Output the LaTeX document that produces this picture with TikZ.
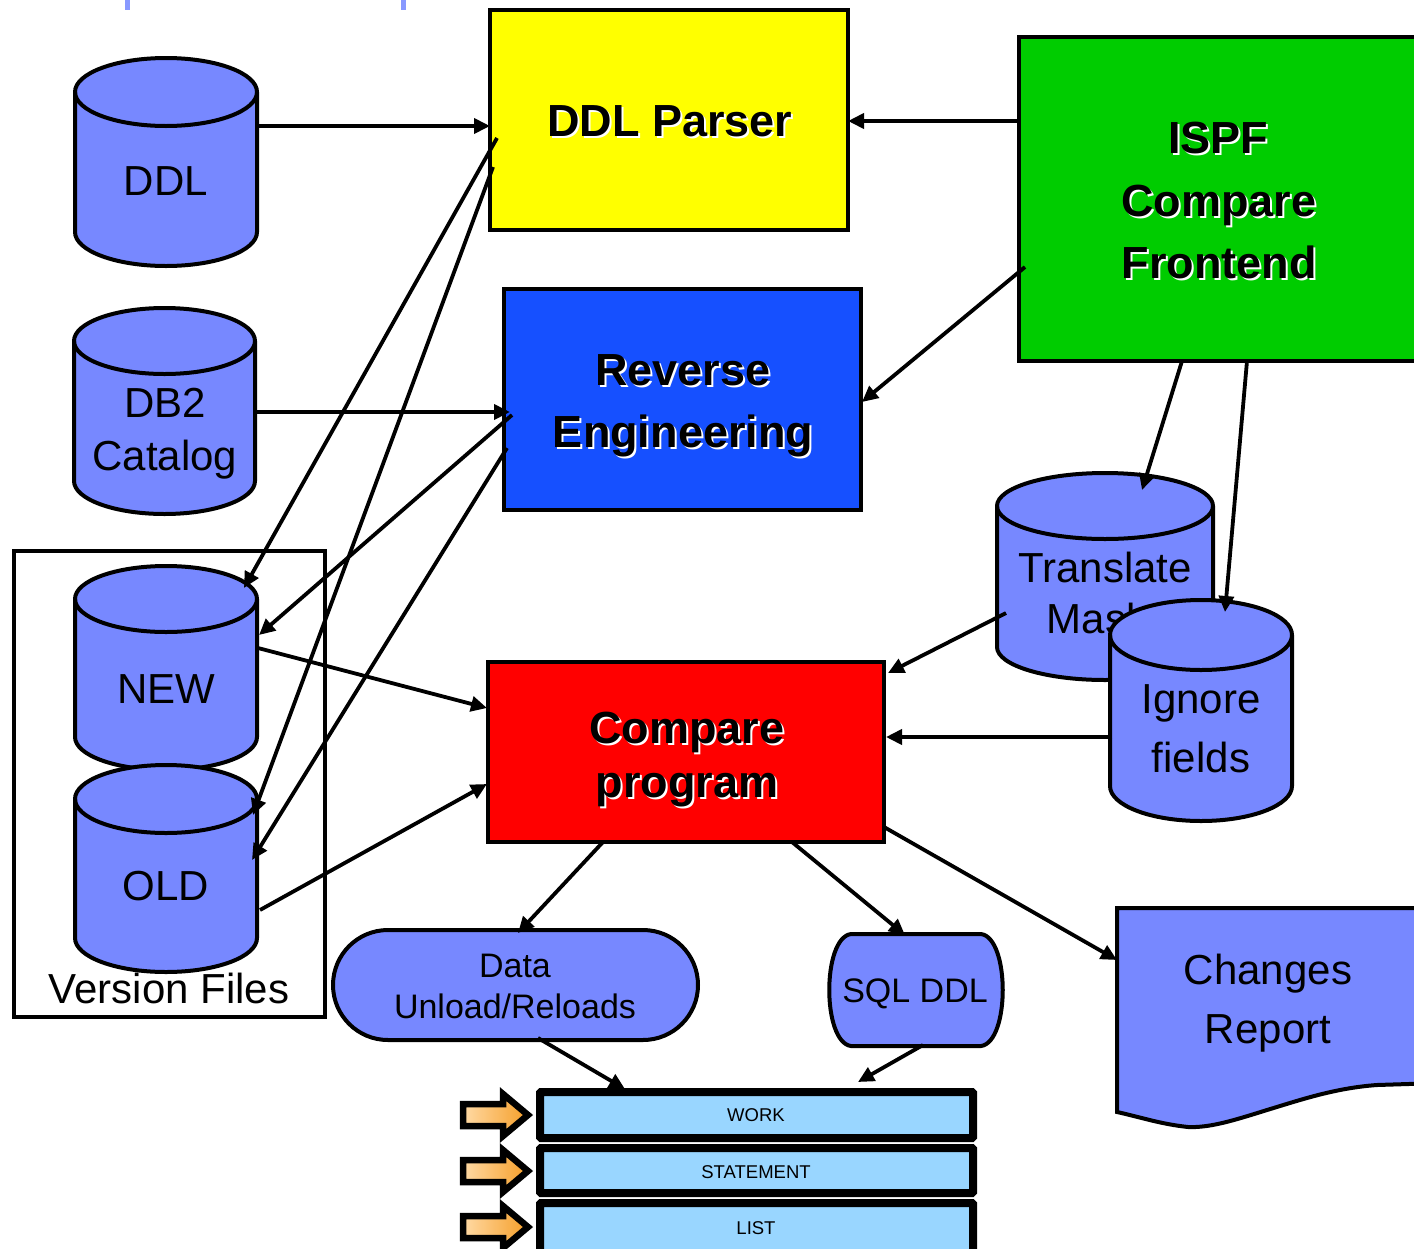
\documentclass[tikz,border=0pt]{standalone}
\usepackage{fontspec}
\setmainfont{Liberation Sans}
\usetikzlibrary{arrows.meta,calc,fit}
\definecolor{cylblue}{RGB}{119,136,255}
\definecolor{revblue}{RGB}{22,80,255}
\definecolor{ispfgreen}{RGB}{0,204,0}
\definecolor{boxyellow}{RGB}{255,255,0}
\definecolor{boxred}{RGB}{255,0,0}
\definecolor{barblue}{RGB}{153,214,255}
\definecolor{markblue}{RGB}{136,153,255}
\definecolor{orlight}{RGB}{255,218,165}
\definecolor{ordark}{RGB}{245,158,40}
\newcommand\cyl[6]{%
 \pgfmathsetmacro\cyA{(#2+#3)/2}%
 \pgfmathsetmacro\cyB{0.5523*(#3-#2)/2}%
 \pgfmathsetmacro\cyC{0.5523*#6}%
 \pgfmathsetmacro\cyT{#4+#6}%
 \pgfmathsetmacro\cyD{#5-#6}%
 \node[anchorbox, fit={(#2,#4)(#3,#5)}] (#1) {};
 \path[cylbody] (#2,\cyT) -- (#2,\cyD) .. controls (#2,\cyD+\cyC) and (\cyA-\cyB,#5) .. (\cyA,#5) .. controls (\cyA+\cyB,#5) and (#3,\cyD+\cyC) .. (#3,\cyD) -- (#3,\cyT) .. controls (#3,\cyT-\cyC) and (\cyA+\cyB,#4) .. (\cyA,#4) .. controls (\cyA-\cyB,#4) and (#2,\cyT-\cyC) .. (#2,\cyT) -- cycle;
 \path[cylline] (#2,\cyT) .. controls (#2,\cyT+\cyC) and (\cyA-\cyB,\cyT+#6) .. (\cyA,\cyT+#6) .. controls (\cyA+\cyB,\cyT+#6) and (#3,\cyT+\cyC) .. (#3,\cyT);
}
\newcommand\btext[4]{%
 \node[btxt,text=white] (#1-s) at (#2+2,#3+2) {#4};
 \node[btxt] (#1) at (#2,#3) {#4};
}
\newcommand\orarrow[1]{%
 \shadedraw[left color=orlight,right color=ordark,draw=black,line width=6.5pt,line join=miter]
 (463,#1-11) -- (503,#1-11) -- (503,#1-21) -- (528,#1) -- (503,#1+21) -- (503,#1+11) -- (463,#1+11) -- cycle;
}
\begin{document}
\begin{tikzpicture}[x=1pt,y=-1pt,
 every node/.style={outer sep=0pt},
 anchorbox/.style={inner sep=0pt},
 cylbody/.style={fill=cylblue,draw=black,line width=4pt,line join=round},
 cylline/.style={draw=black,line width=4pt},
 procbox/.style={draw=black,line width=4pt,inner sep=0pt},
 shapebox/.style={draw=black,fill=cylblue,line width=4pt,inner sep=0pt},
 barbox/.style={draw=black,fill=barblue,line width=8pt,inner sep=0pt,rounded corners=1pt},
 txt/.style={font=\fontsize{42}{50}\selectfont,anchor=base,inner sep=0pt},
 mtxt/.style={font=\fontsize{34}{40}\selectfont,anchor=base,inner sep=0pt},
 stxt/.style={font=\fontsize{18.5}{22}\selectfont,anchor=base,inner sep=0pt},
 btxt/.style={font=\bfseries\fontsize{45}{50}\selectfont,anchor=base,inner sep=0pt},
 conn/.style={line width=3.8pt,-{Triangle[length=16pt,width=15pt]}}]
\useasboundingbox (0,0) rectangle (1414,1248);

% remnants at the top
\fill[markblue] (124.5,0) rectangle (129.5,10);
\fill[markblue] (400.5,0) rectangle (405.5,10);

% version files frame
\node[procbox,line width=3.5pt,fit={(14,551)(325,1017)}] (vf) {};

% cylinders on the left
\cyl{ddl}{75}{257}{58}{266}{34}
\node[txt] (ddl-t) at (166,195) {DDL};
\cyl{db2}{74}{255}{308}{514}{33}
\node[txt] (db2-t1) at (165,417) {DB2};
\node[txt] (db2-t2) at (165,470) {Catalog};
\cyl{new}{75}{257}{566}{770}{33}
\node[txt] (new-t) at (166,703) {NEW};
\cyl{old}{75}{257}{765}{972}{34}
\node[txt] (old-t) at (166,900) {OLD};
\node[txt] (vf-t) at (169,1003) {Version Files};

% process boxes
\node[procbox,fill=boxyellow,fit={(490,10)(848,230)}] (ddlp) {};
\btext{ddlp-t}{670}{136}{DDL Parser}
\node[procbox,fill=revblue,fit={(504,289)(861,510)}] (rev) {};
\btext{rev-t1}{683}{385}{Reverse}
\btext{rev-t2}{683}{447}{Engineering}
\node[procbox,fill=ispfgreen,fit={(1019,37)(1440,361)}] (ispf) {};
\btext{ispf-t1}{1218}{153}{ISPF}
\btext{ispf-t2}{1219}{216}{Compare}
\btext{ispf-t3}{1219}{278}{Frontend}
\node[procbox,fill=boxred,fit={(488,662)(884,842)}] (cmp) {};
\btext{cmp-t1}{687}{743}{Compare}
\btext{cmp-t2}{687}{797}{program}

% cylinders on the right
\cyl{trm}{997}{1213}{473}{680}{33}
\node[txt] (trm-t1) at (1105,582) {Translate};
\node[txt] (trm-t2) at (1097,633) {Mask};
\cyl{ign}{1110}{1292}{600}{821}{35}
\node[txt] (ign-t1) at (1201,713) {Ignore};
\node[txt] (ign-t2) at (1201,772) {fields};

% outputs
\node[shapebox,rounded corners=55pt,fit={(333,930)(698,1040)}] (data) {};
\node[mtxt] (data-t1) at (515,977) {Data};
\node[mtxt] (data-t2) at (515,1018) {Unload/Reloads};
\node[anchorbox,fit={(829,934)(1003,1046)}] (sql) {};
\path[shapebox] (851,934) -- (981,934) .. controls (1010,938) and (1010,1042) .. (981,1046) -- (851,1046) .. controls (822,1042) and (822,938) .. (851,934) -- cycle;
\node[mtxt] (sql-t) at (915,1002) {SQL DDL};
\node[anchorbox,fit={(1117,908)(1414,1127)}] (rep) {};
\path[shapebox] (1117,908) -- (1440,908) -- (1440,1083) -- (1377,1085)
 .. controls (1335,1088) and (1300,1100) .. (1267,1110)
 .. controls (1235,1120) and (1210,1128) .. (1188,1127)
 .. controls (1160,1124) and (1140,1117) .. (1117,1112) -- cycle;
\node[txt] (rep-t1) at (1268,984) {Changes};
\node[txt] (rep-t2) at (1268,1043) {Report};

% data sets
\node[barbox,fit={(540,1092)(973,1138)}] (work) {};
\node[stxt] (work-t) at (756,1121) {WORK};
\node[barbox,fit={(540,1148)(973,1193)}] (stmt) {};
\node[stxt] (stmt-t) at (756,1178) {STATEMENT};
\node[barbox,fit={(540,1203)(973,1260)}] (list) {};
\node[stxt] (list-t) at (756,1234) {LIST};
\orarrow{1115}
\orarrow{1171}
\orarrow{1227}

% connectors
\draw[conn] ($(ddl.north east)+(0,68)$) -- ($(ddlp.north west)+(0,116)$);
\draw[conn] ($(ispf.north west)+(0,84)$) -- ($(ddlp.north east)+(0,111)$);
\draw[conn] ($(db2.north east)+(-2,104)$) -- ($(rev.north west)+(6,123)$);
\draw[conn] ($(ispf.north west)+(6,230)$) -- ($(rev.north east)+(1,113)$);
\draw[conn] ($(ddlp.north west)+(7,128)$) -- ($(new.north west)+(169,22)$);
\draw[conn] ($(ddlp.north west)+(3,157)$) -- ($(old.north west)+(178,50)$);
\draw[conn] ($(rev.north west)+(8,126)$) -- ($(new.north west)+(184,69)$);
\draw[conn] ($(rev.north west)+(3,159)$) -- ($(old.north west)+(177,95)$);
\draw[conn] ($(new.north west)+(183,82)$) -- ($(cmp.north west)+(-1,46)$);
\draw[conn] ($(old.north west)+(185,145)$) -- ($(cmp.north west)+(-1,122)$);
\draw[conn] ($(ispf.north west)+(163,324)$) -- ($(trm.north west)+(145,17)$);
\draw[conn] ($(ispf.north west)+(228,324)$) -- ($(ign.north west)+(115,12)$);
\draw[conn] ($(trm.north west)+(9,140)$) -- ($(cmp.north east)+(4,11)$);
\draw[conn] ($(ign.north west)+(2,137)$) -- ($(cmp.north east)+(2,75)$);
\draw[conn] ($(cmp.south west)+(115,0)$) -- ($(data.north west)+(185,3)$);
\draw[conn] ($(cmp.south west)+(304,0)$) -- ($(sql.north west)+(76,1)$);
\draw[conn] ($(cmp.north east)+(0,165)$) -- ($(rep.north west)+(0,52)$);
\draw[conn] ($(data.south west)+(205,-2)$) -- ($(work.north west)+(85,-3)$);
\draw[conn] ($(sql.south west)+(94,-1)$) -- ($(work.north west)+(318,-10)$);
\end{tikzpicture}
\end{document}
